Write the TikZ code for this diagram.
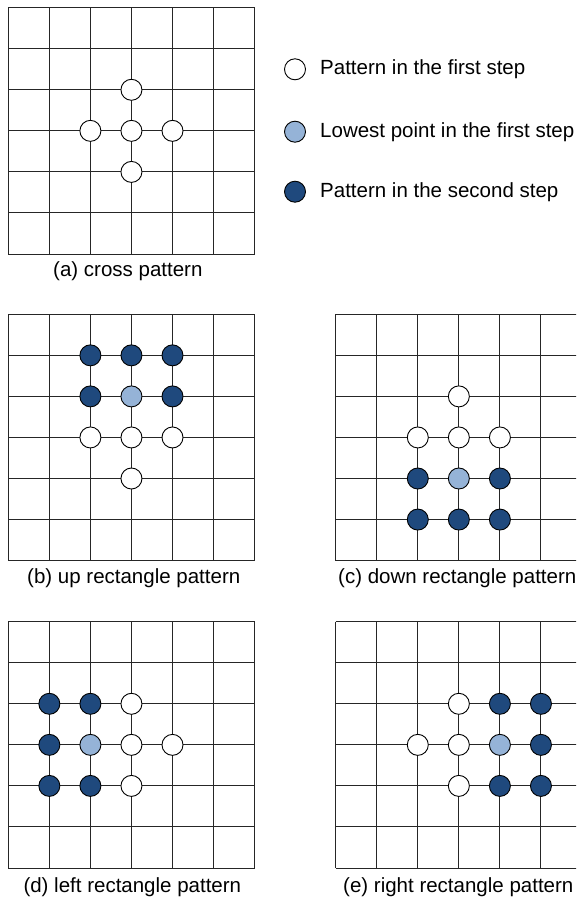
\documentclass[tikz,border=0pt]{standalone}
\usepackage{fontspec}
\setmainfont{Liberation Sans}
\definecolor{lightpt}{HTML}{95B3D7}
\definecolor{darkpt}{HTML}{1F497D}
\newcommand\pgrid{%
  \foreach \i in {0,...,6}{%
    \draw[gridline] (\i,0) -- (\i,6);
    \draw[gridline] (0,\i) -- (6,\i);
  }%
}
\begin{document}
\begin{tikzpicture}[x=1pt,y=-1pt,
  gridline/.style={line width=1pt,black!85},
  pt/.style={circle,draw=black,line width=0.9pt,minimum size=21pt,inner sep=0pt},
  wpt/.style={pt,fill=white},
  lpt/.style={pt,fill=lightpt},
  dpt/.style={pt,fill=darkpt},
  lbl/.style={font=\fontsize{20.5}{24}\selectfont,inner sep=0pt}]
\useasboundingbox (0,0) rectangle (576,899);
\clip (0,0) rectangle (576,899);
% (a)
\begin{scope}[shift={(8.3,7.7)},x=41.05pt,y=-41.05pt]
  \pgrid
  \node[wpt] (a1) at (3,2) {};
  \node[wpt] (a2) at (2,3) {};
  \node[wpt] (a3) at (3,3) {};
  \node[wpt] (a4) at (4,3) {};
  \node[wpt] (a5) at (3,4) {};
\end{scope}
\node[lbl,anchor=west] (la) at (53,271) {(a) cross pattern};
% legend
\node[wpt] (k1) at (295,69.3) {};
\node[lpt] (k2) at (295,131.7) {};
\node[dpt] (k3) at (295,191.7) {};
\node[lbl,anchor=west] (t1) at (320,69.3) {Pattern in the first step};
\node[lbl,anchor=west] (t2) at (320,131.7) {Lowest point in the first step};
\node[lbl,anchor=west] (t3) at (320,191.7) {Pattern in the second step};
% (b)
\begin{scope}[shift={(8.3,314.3)},x=41.05pt,y=-41.05pt]
  \pgrid
  \node[dpt] (b1) at (2,1) {};
  \node[dpt] (b2) at (3,1) {};
  \node[dpt] (b3) at (4,1) {};
  \node[dpt] (b4) at (2,2) {};
  \node[lpt] (b5) at (3,2) {};
  \node[dpt] (b6) at (4,2) {};
  \node[wpt] (b7) at (2,3) {};
  \node[wpt] (b8) at (3,3) {};
  \node[wpt] (b9) at (4,3) {};
  \node[wpt] (b10) at (3,4) {};
\end{scope}
\node[lbl,anchor=west] (lb) at (27,578) {(b) up rectangle pattern};
% (c)
\begin{scope}[shift={(335.7,314.3)},x=41.05pt,y=-41.05pt]
  \pgrid
  \node[wpt] (c1) at (3,2) {};
  \node[wpt] (c2) at (2,3) {};
  \node[wpt] (c3) at (3,3) {};
  \node[wpt] (c4) at (4,3) {};
  \node[dpt] (c5) at (2,4) {};
  \node[lpt] (c6) at (3,4) {};
  \node[dpt] (c7) at (4,4) {};
  \node[dpt] (c8) at (2,5) {};
  \node[dpt] (c9) at (3,5) {};
  \node[dpt] (c10) at (4,5) {};
\end{scope}
\node[lbl,anchor=west] (lc) at (338,578) {(c) down rectangle pattern};
% (d)
\begin{scope}[shift={(8.3,621.7)},x=41.05pt,y=-41.05pt]
  \pgrid
  \node[dpt] (d1) at (1,2) {};
  \node[dpt] (d2) at (2,2) {};
  \node[wpt] (d3) at (3,2) {};
  \node[dpt] (d4) at (1,3) {};
  \node[lpt] (d5) at (2,3) {};
  \node[wpt] (d6) at (3,3) {};
  \node[wpt] (d7) at (4,3) {};
  \node[dpt] (d8) at (1,4) {};
  \node[dpt] (d9) at (2,4) {};
  \node[wpt] (d10) at (3,4) {};
\end{scope}
\node[lbl,anchor=west] (ld) at (23.3,887) {(d) left rectangle pattern};
% (e)
\begin{scope}[shift={(335.7,621.7)},x=41.05pt,y=-41.05pt]
  \pgrid
  \node[wpt] (e1) at (3,2) {};
  \node[dpt] (e2) at (4,2) {};
  \node[dpt] (e3) at (5,2) {};
  \node[wpt] (e4) at (2,3) {};
  \node[wpt] (e5) at (3,3) {};
  \node[lpt] (e6) at (4,3) {};
  \node[dpt] (e7) at (5,3) {};
  \node[wpt] (e8) at (3,4) {};
  \node[dpt] (e9) at (4,4) {};
  \node[dpt] (e10) at (5,4) {};
\end{scope}
\node[lbl,anchor=west] (le) at (343,887) {(e) right rectangle pattern};
\end{tikzpicture}
\end{document}
